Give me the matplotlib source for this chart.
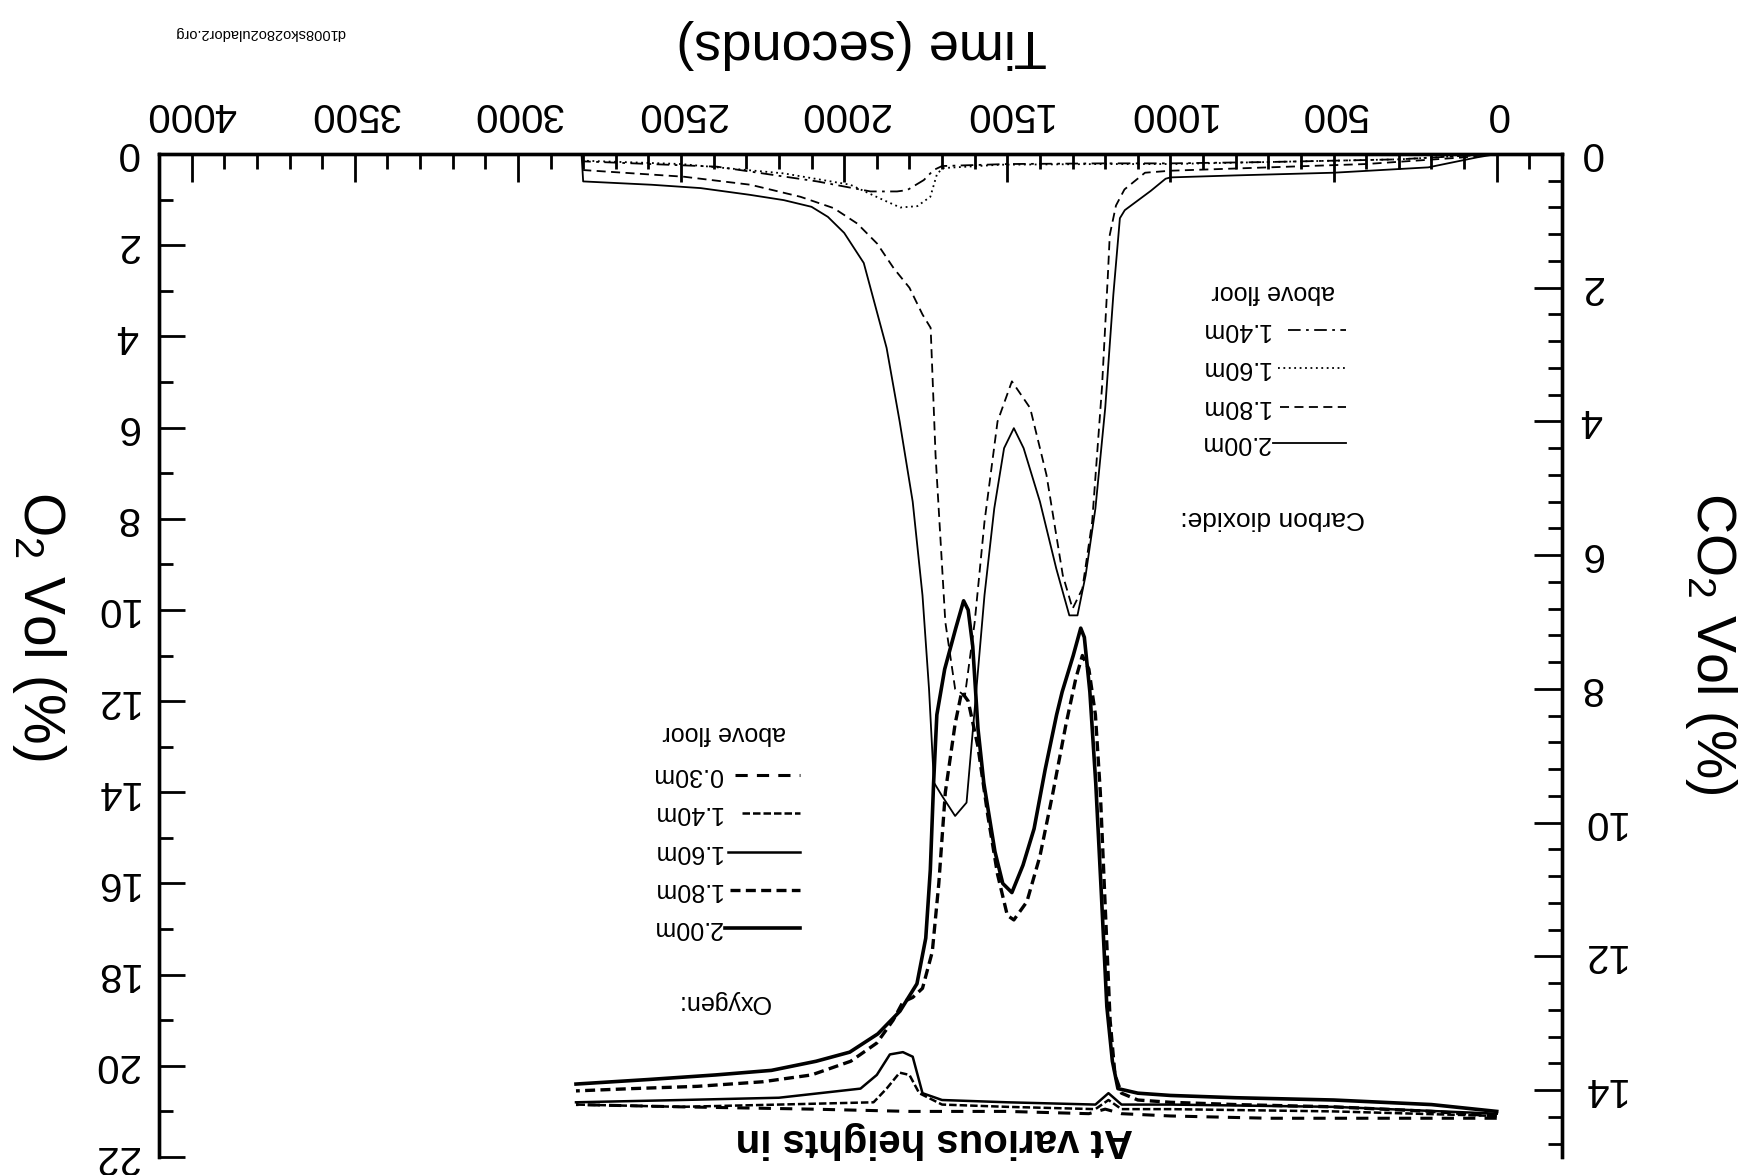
import numpy as np
import matplotlib
matplotlib.use('Agg')
import matplotlib.pyplot as plt
import matplotlib.transforms as mtransforms
from matplotlib.ticker import MultipleLocator
from matplotlib.lines import Line2D

plt.rcParams['font.family'] = ['Liberation Sans', 'DejaVu Sans']
plt.rcParams['mathtext.fontset'] = 'custom'
plt.rcParams['mathtext.rm'] = 'Liberation Sans'

# ---- data ----
# carbon dioxide, vol %
t_co2_200 = [0, 60, 210, 500, 800, 1000, 1015, 1060, 1140, 1155, 1175, 1200, 1230, 1260, 1285, 1310, 1350, 1400, 1450, 1480,
             1510, 1540, 1570, 1600, 1625, 1660, 1700, 1725, 1740, 1760, 1790, 1830, 1870, 1940, 2000, 2050, 2100, 2185,
             2290, 2440, 2590, 2800, 2805]
co2_200 = [0.0, 0.05, 0.2, 0.28, 0.32, 0.35, 0.37, 0.55, 0.84, 0.96, 2.1, 3.8, 5.3, 6.3, 6.9, 6.9, 6.2, 5.2, 4.4, 4.1,
           4.4, 5.3, 6.6, 8.3, 9.7, 9.9, 9.6, 9.4, 8.0, 6.6, 5.2, 4.0, 2.9, 1.63, 1.18, 0.94, 0.79, 0.69,
           0.61, 0.51, 0.46, 0.41, 0.0]

t_co2_180 = [0, 100, 400, 700, 1000, 1078, 1141, 1167, 1186, 1192, 1210, 1240, 1270, 1300, 1330, 1380, 1430, 1486, 1530,
             1570, 1600, 1630, 1660, 1690, 1720, 1735, 1760, 1800, 1848, 1899, 1960, 2032, 2134, 2287, 2491, 2800]
co2_180 = [0.0, 0.05, 0.15, 0.2, 0.25, 0.28, 0.53, 0.77, 1.21, 1.83, 3.5, 5.5, 6.5, 6.8, 6.3, 4.8, 3.8, 3.4, 4.0,
           5.5, 7.0, 8.1, 8.0, 7.0, 4.5, 2.6, 2.4, 2.0, 1.71, 1.34, 1.04, 0.81, 0.64, 0.46, 0.34, 0.24]

t_co2_160 = [0, 300, 700, 1000, 1200, 1521, 1695, 1715, 1736, 1776, 1828, 1879, 1981, 2185, 2500, 2800]
co2_160 = [0.0, 0.08, 0.12, 0.15, 0.15, 0.16, 0.21, 0.29, 0.64, 0.78, 0.80, 0.69, 0.46, 0.29, 0.15, 0.1]

t_co2_140 = [0, 300, 700, 1000, 1200, 1500, 1700, 1726, 1756, 1807, 1838, 1919, 2083, 2389, 2800]
co2_140 = [0.0, 0.08, 0.12, 0.14, 0.14, 0.15, 0.18, 0.24, 0.39, 0.54, 0.56, 0.56, 0.41, 0.19, 0.11]

# oxygen, vol %
t_o2_200 = [0, 200, 500, 800, 1000, 1100, 1161, 1178, 1195, 1212, 1229, 1247, 1264, 1275, 1298, 1332, 1349, 1384, 1418,
            1452, 1486, 1514, 1538, 1572, 1590, 1606, 1620, 1634, 1658, 1692, 1716, 1726, 1736, 1750, 1777, 1829,
            1897, 1983, 2086, 2223, 2394, 2599, 2822]
o2_200 = [21.0, 20.85, 20.75, 20.7, 20.65, 20.6, 20.5, 19.9, 18.7, 16.2, 13.8, 11.8, 10.6, 10.4, 11.0, 11.8, 12.3, 13.5, 14.8,
          15.6, 16.2, 16.0, 15.3, 13.8, 12.6, 10.8, 10.0, 9.8, 10.4, 11.3, 12.3, 13.8, 15.7, 17.2, 18.2, 18.8,
          19.3, 19.7, 19.9, 20.1, 20.2, 20.3, 20.4]

t_o2_180 = [0, 200, 500, 800, 1000, 1100, 1150, 1170, 1185, 1200, 1215, 1230, 1250, 1270, 1290, 1320, 1360, 1400, 1440,
            1480, 1500, 1530, 1560, 1590, 1620, 1640, 1660, 1690, 1710, 1730, 1760, 1790, 1820, 1850, 1900, 1980,
            2100, 2250, 2450, 2650, 2822]
o2_180 = [21.1, 21.0, 20.9, 20.85, 20.8, 20.75, 20.6, 20.2, 19.0, 16.5, 14.0, 12.3, 11.3, 11.0, 11.5, 12.5, 14.0, 15.4, 16.4,
          16.8, 16.7, 15.8, 14.5, 13.0, 12.0, 11.8, 12.5, 14.0, 16.0, 17.5, 18.3, 18.5, 18.6, 19.0, 19.5, 19.9,
          20.2, 20.35, 20.45, 20.5, 20.55]

t_o2_160 = [0, 500, 1000, 1150, 1190, 1230, 1500, 1700, 1760, 1790, 1820, 1860, 1900, 1950, 2200, 2500, 2822]
o2_160 = [21.05, 20.9, 20.85, 20.85, 20.6, 20.85, 20.8, 20.75, 20.6, 19.8, 19.7, 19.75, 20.2, 20.5, 20.7, 20.75, 20.8]

t_o2_140 = [0, 500, 1000, 1150, 1190, 1230, 1500, 1700, 1770, 1800, 1830, 1870, 1910, 2200, 2500, 2822]
o2_140 = [21.1, 21.0, 20.95, 20.95, 20.75, 20.95, 20.9, 20.85, 20.6, 20.2, 20.15, 20.5, 20.8, 20.85, 20.9, 20.85]

t_o2_030 = [0, 300, 700, 1000, 1150, 1200, 1250, 1500, 1800, 2100, 2500, 2822]
o2_030 = [21.15, 21.15, 21.15, 21.1, 21.05, 20.95, 21.05, 21.0, 21.0, 20.95, 20.9, 20.85]

co2_labels = ['2.00m', '1.80m', '1.60m', '1.40m']
o2_labels = ['2.00m', '1.80m', '1.60m', '1.40m', '0.30m']

# ---- styles ----
co2_styles = [dict(ls='-', lw=1.3), dict(ls=(0, (5, 3)), lw=1.3), dict(ls=(0, (1, 2)), lw=1.3),
              dict(ls=(0, (7, 3, 1.5, 3)), lw=1.3)]
o2_styles = [dict(ls='-', lw=2.6), dict(ls=(0, (3, 1.6)), lw=2.4), dict(ls='-', lw=1.8),
             dict(ls=(0, (3, 1.2)), lw=1.8), dict(ls=(0, (4, 3)), lw=2.2)]

W, H = 1753, 1175
fig = plt.figure(figsize=(W / 100, H / 100), dpi=100)
L, R, T, B = 159, 1562, 154, 1157
ax = fig.add_axes([L / W, 1 - B / H, (R - L) / W, (B - T) / H])
ax2 = ax.twinx()

for t, v, st in zip([t_o2_200, t_o2_180, t_o2_160, t_o2_140, t_o2_030],
                    [o2_200, o2_180, o2_160, o2_140, o2_030], o2_styles):
    ax.plot(t, v, color='k', **st)
for t, v, st in zip([t_co2_200, t_co2_180, t_co2_160, t_co2_140],
                    [co2_200, co2_180, co2_160, co2_140], co2_styles):
    ax2.plot(t, v, color='k', **st)

ax.set_xlim(4100, -200)
ax.set_ylim(22, 0)
ax2.set_ylim(15, 0)
ax.xaxis.set_major_locator(MultipleLocator(500))
ax.xaxis.set_minor_locator(MultipleLocator(100))
ax.yaxis.set_major_locator(MultipleLocator(2))
ax.yaxis.set_minor_locator(MultipleLocator(1))
ax2.yaxis.set_major_locator(MultipleLocator(2))
ax2.yaxis.set_minor_locator(MultipleLocator(0.4))

ax.xaxis.tick_top()
ax.tick_params(axis='x', which='both', direction='in', top=True, bottom=False, labeltop=True, labelbottom=False,
               labelrotation=180, labelsize=29, pad=15, width=2)
ax.tick_params(axis='x', which='major', length=20)
ax.tick_params(axis='x', which='minor', length=11)
ax.tick_params(axis='y', which='both', direction='in', right=False, labelrotation=180, labelsize=29, pad=15, width=2)
ax.tick_params(axis='y', which='major', length=19)
ax.tick_params(axis='y', which='minor', length=10)
ax2.tick_params(axis='y', which='both', direction='in', labelrotation=180, labelsize=29, pad=13, width=2)
ax2.tick_params(axis='y', which='major', length=20)
ax2.tick_params(axis='y', which='minor', length=10)
for a in (ax, ax2):
    a.spines['bottom'].set_visible(False)
    for s in ('top', 'left', 'right'):
        a.spines[s].set_linewidth(2.4)

# upside-down digits sit low in their box: lift the y tick labels a little
for a, dy in ((ax, 0.045), (ax2, 0.05)):
    shift = mtransforms.ScaledTranslation(0, dy, fig.dpi_scale_trans)
    for tick in a.yaxis.get_major_ticks():
        for lab in (tick.label1, tick.label2):
            lab.set_transform(lab.get_transform() + shift)

# axis titles (the page is scanned upside down)
fig.text(862 / W, 1 - 44 / H, 'Time (seconds)', rotation=180, ha='center', va='center', fontsize=39)
fig.text(39 / W, 1 - 626 / H, r'O$_2$ Vol (%)', rotation=270, ha='center', va='center', fontsize=41)
fig.text(1711 / W, 1 - 643 / H, r'CO$_2$ Vol (%)', rotation=270, ha='center', va='center', fontsize=40)
fig.text(934 / W, 1 - 1140 / H, 'At various heights in', rotation=180, ha='center', va='center', fontsize=29,
         fontweight='bold')
fig.text(260 / W, 1 - 33 / H, 'd1008sko28o2ulador2.org', rotation=180, ha='center', va='center', fontsize=10.5)


def key(x0, x1, xt, y, label, style, size=18):
    fig.add_artist(Line2D([x0 / W, x1 / W], [1 - y / H, 1 - y / H], color='k', transform=fig.transFigure, **style))
    fig.text(xt / W, 1 - y / H, label, rotation=180, ha='right', va='center', fontsize=size)


# carbon dioxide key
fig.text(1273 / W, 1 - 518 / H, 'Carbon dioxide:', rotation=180, ha='center', va='center', fontsize=19)
for y, lab, st, x0 in zip([443, 407, 368, 330], co2_labels, co2_styles, [1273, 1280, 1278, 1288]):
    key(x0, 1346, 1270, y, lab, st)
fig.text(1273 / W, 1 - 292 / H, 'above floor', rotation=180, ha='center', va='center', fontsize=18)

# oxygen key
fig.text(723 / W, 1 - 1002 / H, 'Oxygen:', rotation=180, ha='center', va='center', fontsize=18)
for y, lab, st, x0 in zip([928, 890, 852, 813, 775], o2_labels, o2_styles, [725, 730, 728, 742, 735]):
    key(x0, 800, 722, y, lab, st)
fig.text(724 / W, 1 - 733 / H, 'above floor', rotation=180, ha='center', va='center', fontsize=18)

fig.savefig('out.png', dpi=100)
